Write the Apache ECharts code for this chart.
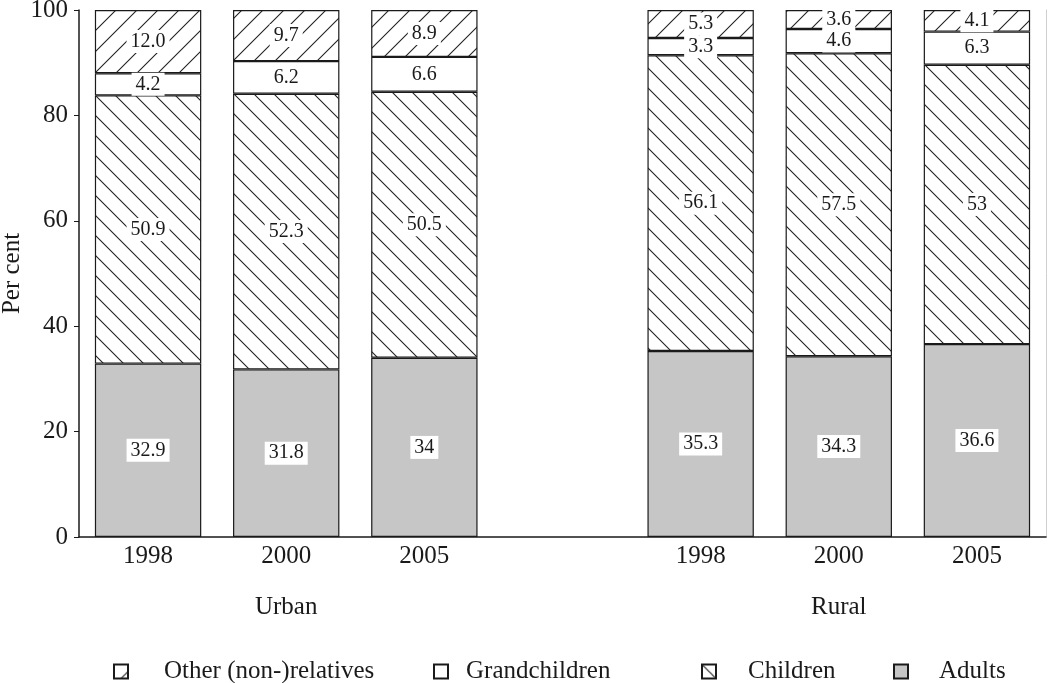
<!DOCTYPE html>
<html>
<head>
<meta charset="utf-8">
<script src="https://cdn.jsdelivr.net/npm/echarts@6/dist/echarts.min.js"></script>
<style>
  html, body { margin: 0; padding: 0; background: #fff; }
  #chart { width: 1050px; height: 683px; }
</style>
</head>
<body>
<div id="chart"></div>
<script>
// categories (empty slot separates urban and rural)
const years = ['1998', '2000', '2005', '', '1998', '2000', '2005'];
const groups = ['', 'Urban', '', '', '', 'Rural', ''];

// shares in per cent, kept as strings so labels show as printed
const adults = ['32.9', '31.8', '34', '-', '35.3', '34.3', '36.6'];
const children = ['50.9', '52.3', '50.5', '-', '56.1', '57.5', '53'];
const grandchildren = ['4.2', '6.2', '6.6', '-', '3.3', '4.6', '6.3'];
const others = ['12.0', '9.7', '8.9', '-', '5.3', '3.6', '4.1'];

const FONT = '"Liberation Serif", "DejaVu Serif", serif';
const INK = '#1a1a1a';

// hatch tile: 'back' = "\" lines, 'fwd' = "/" lines
function hatch(size, dir) {
  const c = document.createElement('canvas');
  c.width = c.height = size;
  const g = c.getContext('2d');
  g.fillStyle = '#fff';
  g.fillRect(0, 0, size, size);
  g.strokeStyle = '#222';
  g.lineWidth = 1.1;
  g.beginPath();
  if (dir === 'back') {
    g.moveTo(-1, -1); g.lineTo(size + 1, size + 1);
    g.moveTo(-2, size - 2); g.lineTo(2, size + 2);
    g.moveTo(size - 2, -2); g.lineTo(size + 2, 2);
  } else {
    g.moveTo(-1, size + 1); g.lineTo(size + 1, -1);
    g.moveTo(-2, 2); g.lineTo(2, -2);
    g.moveTo(size - 2, size + 2); g.lineTo(size + 2, size - 2);
  }
  g.stroke();
  return c;
}

function makeSeries(name, data, fill) {
  return {
    name: name,
    type: 'bar',
    stack: 'total',
    barWidth: '77%',
    data: data,
    itemStyle: { color: fill, borderColor: INK, borderWidth: 1.2 },
    label: {
      show: true,
      position: 'inside',
      formatter: p => p.data,
      backgroundColor: '#fff',
      padding: [2, 4, 1, 4],
      color: INK,
      fontSize: 20,
      fontFamily: FONT
    },
    emphasis: { disabled: true }
  };
}

// one legend block per entry so each sits where the reference has it
function legendItem(name, left, gap) {
  return {
    top: 659,
    left: left,
    padding: 0,
    itemWidth: 14,
    itemHeight: 14,
    icon: 'rect',
    selectedMode: false,
    data: [name],
    textStyle: { fontSize: 25, fontFamily: FONT, color: INK, padding: [0, 0, 0, gap] }
  };
}

const chart = echarts.init(document.getElementById('chart'));
chart.setOption({
  animation: false,
  backgroundColor: '#fff',
  grid: { left: 79, right: 4, top: 10, bottom: 146, outerBoundsMode: 'none' },
  legend: [
    legendItem('Other (non-)relatives', 113, 31),
    legendItem('Grandchildren', 433, 13),
    legendItem('Children', 701, 27),
    legendItem('Adults', 893, 26)
  ],
  xAxis: [
    {
      type: 'category',
      data: years,
      axisLine: { lineStyle: { color: INK, width: 1.5 } },
      axisTick: { show: false },
      axisLabel: { fontSize: 25, fontFamily: FONT, color: INK, margin: 7 }
    },
    {
      type: 'category',
      data: groups,
      position: 'bottom',
      offset: 50,
      axisLine: { show: false },
      axisTick: { show: false },
      axisLabel: { fontSize: 25, fontFamily: FONT, color: INK, interval: 0 }
    }
  ],
  yAxis: [
    {
      type: 'value',
      min: 0,
      max: 100,
      interval: 20,
      name: 'Per cent',
      nameLocation: 'middle',
      nameGap: 54,
      nameMoveOverlap: false,
      nameTextStyle: { fontSize: 25, fontFamily: FONT, color: INK },
      axisLine: { show: true, lineStyle: { color: INK, width: 1.5 } },
      axisTick: { show: true, length: 5, lineStyle: { color: INK } },
      axisLabel: { fontSize: 25, fontFamily: FONT, color: INK, margin: 11 },
      splitLine: { show: false }
    },
    {
      type: 'value',
      position: 'right',
      min: 0,
      max: 100,
      axisLine: { show: true, lineStyle: { color: '#cfcfcf', width: 1 } },
      axisTick: { show: false },
      axisLabel: { show: false },
      splitLine: { show: false }
    }
  ],
  series: [
    makeSeries('Adults', adults, '#c6c6c6'),
    makeSeries('Children', children, { image: hatch(20, 'back'), repeat: 'repeat' }),
    makeSeries('Grandchildren', grandchildren, '#fff'),
    makeSeries('Other (non-)relatives', others, { image: hatch(21, 'fwd'), repeat: 'repeat' })
  ]
});
</script>
</body>
</html>
